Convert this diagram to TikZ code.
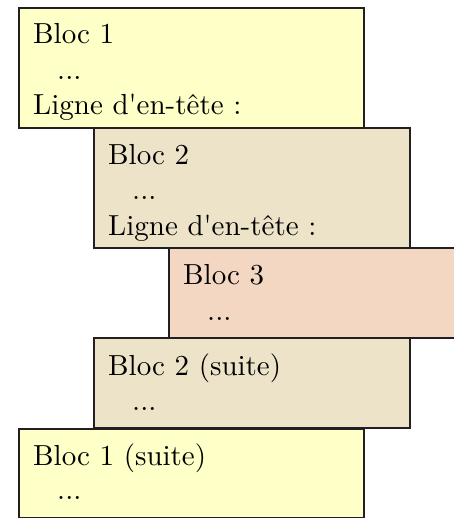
\documentclass[tikz,border=0pt]{standalone}
\usepackage{fontspec}
\setmainfont{lmroman10-regular.otf}
\usepackage{tikz}
\definecolor{cA}{HTML}{FFFFC8}
\definecolor{cB}{HTML}{EDE3C9}
\definecolor{cC}{HTML}{F3D7C3}
\definecolor{edge}{HTML}{231F20}
\tikzset{
  bloc/.style={draw=edge, line width=2pt, rectangle, inner sep=0pt, anchor=north west},
  txt/.style={anchor=base west, inner sep=0pt, text=black, font=\fontsize{29}{35}\selectfont},
}
\begin{document}
\begin{tikzpicture}[x=1pt,y=-1pt]
\useasboundingbox (0,0) rectangle (453,518);
% boxes
\node[bloc, fill=cA, minimum width=345pt, minimum height=120pt] (b1) at (18,7) {};
\node[bloc, fill=cB, minimum width=316pt, minimum height=120pt] (b2) at (93,127) {};
\node[bloc, fill=cC, minimum width=286pt, minimum height=90pt] (b3) at (168,247) {};
\node[bloc, fill=cB, minimum width=316pt, minimum height=90pt] (b2s) at (93,337) {};
\node[bloc, fill=cA, minimum width=345pt, minimum height=89pt] (b1s) at (18,428) {};
% texts
\node[txt] (t1a) at (33,44) {Bloc 1};
\node[txt] (t1b) at (57,80) {...};
\node[txt] (t1c) at (33,115) {Ligne d\textquotesingle en-t\^ete :};
\node[txt] (t2a) at (108,165) {Bloc 2};
\node[txt] (t2b) at (132,200) {...};
\node[txt] (t2c) at (108,235) {Ligne d\textquotesingle en-t\^ete :};
\node[txt] (t3a) at (183,284) {Bloc 3};
\node[txt] (t3b) at (207,320) {...};
\node[txt] (t4a) at (108,375) {Bloc 2 (suite)};
\node[txt] (t4b) at (132,410) {...};
\node[txt] (t5a) at (33,465) {Bloc 1 (suite)};
\node[txt] (t5b) at (57,499) {...};
\end{tikzpicture}
\end{document}
